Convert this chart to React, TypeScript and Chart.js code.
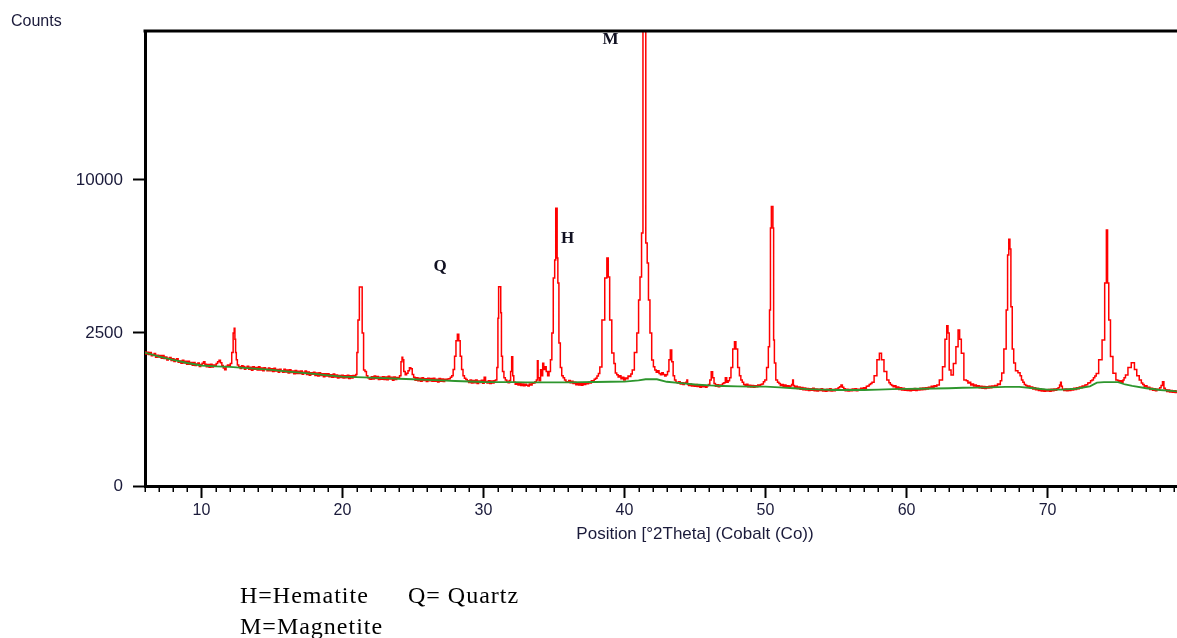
import React, { useEffect, useRef } from 'react';
import { Chart, LinearScale, registerables } from 'chart.js';

// ---------- axis settings ----------
const xMin = 6;
const xMax = 84;
const yMin = 0;
const yMax = 22100;
const xTickValues = [10, 20, 30, 40, 50, 60, 70, 80];
const yTickValues = [0, 2500, 10000];
const xTitle = 'Position [°2Theta] (Cobalt (Co))';
const yTitle = 'Counts';

// ---------- observed scan (2θ, counts) ----------
const scanLowAngle: [number, number][] = [
  [6.0, 1918], [6.1, 1857], [6.2, 1911], [6.3, 1845], [6.4, 1899], [6.5, 1808], [6.6, 1847], [6.7, 1871],
  [6.8, 1770], [6.9, 1825], [7.0, 1775], [7.1, 1820], [7.2, 1741], [7.3, 1817], [7.4, 1732], [7.5, 1773],
  [7.6, 1694], [7.7, 1744], [7.8, 1765], [7.9, 1680], [8.0, 1731], [8.1, 1653], [8.2, 1705], [8.3, 1727],
  [8.4, 1634], [8.5, 1671], [8.6, 1608], [8.7, 1685], [8.8, 1617], [8.9, 1658], [9.0, 1585], [9.1, 1658],
  [9.2, 1582], [9.3, 1625], [9.4, 1554], [9.5, 1627], [9.6, 1551], [9.7, 1589], [9.8, 1613], [9.9, 1526],
  [10.0, 1575], [10.1, 1608], [10.2, 1646], [10.3, 1584], [10.4, 1517], [10.5, 1575], [10.6, 1508], [10.7, 1581],
  [10.8, 1514], [10.9, 1562], [11.0, 1540], [11.1, 1599], [11.2, 1647], [11.3, 1686], [11.4, 1624], [11.5, 1553],
  [11.6, 1486], [11.7, 1440], [11.8, 1528], [11.9, 1562], [12.0, 1535], [12.1, 1603], [12.2, 1900], [12.3, 2500],
  [12.35, 2656], [12.4, 2300], [12.45, 1900], [12.5, 1700], [12.6, 1560], [12.7, 1518], [12.8, 1475], [12.9, 1543],
  [13.0, 1525], [13.1, 1457], [13.2, 1504], [13.3, 1532], [13.4, 1454], [13.5, 1506], [13.6, 1433], [13.7, 1515],
  [13.8, 1452], [13.9, 1500], [14.0, 1437], [14.1, 1515], [14.2, 1437], [14.3, 1485], [14.4, 1417], [14.5, 1490],
  [14.6, 1457], [14.7, 1415], [14.8, 1487], [14.9, 1420], [15.0, 1467], [15.1, 1399], [15.2, 1481], [15.3, 1412],
  [15.4, 1449], [15.5, 1381], [15.6, 1458], [15.7, 1420], [15.8, 1381], [15.9, 1453], [16.0, 1385], [16.1, 1437],
  [16.2, 1363], [16.3, 1445], [16.4, 1377], [16.5, 1413], [16.6, 1345], [16.7, 1422], [16.8, 1353], [16.9, 1405],
  [17.0, 1352], [17.1, 1414], [17.2, 1331], [17.3, 1382], [17.4, 1409], [17.5, 1326], [17.6, 1388], [17.7, 1310],
  [17.8, 1371], [17.9, 1333], [18.0, 1380], [18.1, 1306], [18.2, 1363], [18.3, 1294], [18.4, 1371], [18.5, 1302],
  [18.6, 1344], [18.7, 1275], [18.8, 1347], [18.9, 1293], [19.0, 1345], [19.1, 1272], [19.2, 1324], [19.3, 1261],
  [19.4, 1338], [19.5, 1270], [19.6, 1318], [19.7, 1245], [19.8, 1302], [19.9, 1254], [20.0, 1311], [20.1, 1245],
  [20.2, 1299], [20.3, 1253], [20.4, 1312], [20.5, 1236], [20.6, 1300], [20.7, 1244], [20.8, 1303], [20.9, 1277],
];

const scanQuartzRegion: [number, number][] = [
  [21.0, 1330], [21.05, 1900], [21.15, 2943], [21.25, 4229], [21.35, 4229], [21.45, 2500], [21.55, 1437], [21.65, 1400],
  [21.75, 1300], [21.85, 1250], [21.95, 1225], [22.0, 1218], [22.1, 1277], [22.2, 1221], [22.3, 1291], [22.4, 1231],
  [22.5, 1278], [22.6, 1208], [22.7, 1264], [22.8, 1218], [22.9, 1275], [23.0, 1210], [23.1, 1268], [23.2, 1203],
  [23.3, 1283], [23.4, 1223], [23.5, 1262], [23.6, 1195], [23.7, 1268], [23.8, 1211], [23.9, 1259], [24.0, 1248],
  [24.1, 1300], [24.2, 1650], [24.25, 1770], [24.3, 1700], [24.4, 1400], [24.5, 1320], [24.6, 1360], [24.7, 1420],
  [24.8, 1490], [24.9, 1470], [25.0, 1330], [25.1, 1262], [25.2, 1194], [25.3, 1252], [25.4, 1182], [25.5, 1240],
  [25.6, 1173], [25.7, 1252], [25.8, 1190], [25.9, 1229], [26.0, 1163], [26.1, 1237], [26.2, 1181], [26.3, 1231],
  [26.4, 1169], [26.5, 1242], [26.6, 1170], [26.7, 1214], [26.8, 1157], [26.9, 1231], [27.0, 1170], [27.1, 1224],
  [27.2, 1164], [27.3, 1217], [27.4, 1196], [27.5, 1224], [27.6, 1230], [27.7, 1260], [27.8, 1300], [27.9, 1450],
  [28.0, 1800], [28.1, 2250], [28.2, 2460], [28.3, 2250], [28.4, 1800], [28.5, 1450], [28.6, 1300], [28.7, 1240],
  [28.8, 1210], [28.9, 1185], [29.0, 1146], [29.1, 1200], [29.2, 1135], [29.3, 1189], [29.4, 1140], [29.5, 1202],
  [29.6, 1124], [29.7, 1178], [29.8, 1142], [29.9, 1191], [30.0, 1125], [30.1, 1260], [30.2, 1165], [30.3, 1130],
  [30.4, 1185], [30.5, 1119], [30.6, 1179], [30.7, 1134], [30.8, 1184], [30.9, 1200], [31.0, 1500], [31.05, 3000],
  [31.1, 4240], [31.2, 4240], [31.25, 3200], [31.3, 1800], [31.4, 1400], [31.5, 1250], [31.6, 1200], [31.7, 1170],
  [31.8, 1140], [31.9, 1190], [31.95, 1400], [32.05, 1786], [32.1, 1300], [32.2, 1150], [32.3, 1105], [32.4, 1130],
  [32.5, 1090], [32.6, 1120], [32.7, 1080], [32.8, 1110], [32.9, 1075], [33.0, 1105], [33.1, 1085], [33.2, 1070],
  [33.3, 1110], [33.4, 1090], [33.5, 1125], [33.6, 1130], [33.7, 1160],
];

const scanHematiteMagnetite: [number, number][] = [
  [33.8, 1200], [33.85, 1676], [33.9, 1250], [34.0, 1180], [34.1, 1440], [34.15, 1300], [34.25, 1608], [34.3, 1450],
  [34.4, 1520], [34.5, 1400], [34.6, 1300], [34.7, 1400], [34.8, 1700], [34.9, 2500], [35.0, 4620], [35.1, 5455],
  [35.15, 8236], [35.2, 8236], [35.25, 5552], [35.3, 4401], [35.4, 2184], [35.5, 1500], [35.6, 1300], [35.7, 1250],
  [35.8, 1200], [35.9, 1160], [36.0, 1150], [36.1, 1190], [36.2, 1140], [36.3, 1170], [36.4, 1120], [36.5, 1150],
  [36.6, 1095], [36.7, 1130], [36.8, 1090], [36.9, 1125], [37.0, 1085], [37.1, 1120], [37.2, 1100], [37.3, 1140],
  [37.4, 1115], [37.5, 1150], [37.6, 1135], [37.7, 1180], [37.8, 1170], [37.9, 1215], [38.0, 1240], [38.1, 1290],
  [38.2, 1350], [38.3, 1512], [38.5, 2943], [38.7, 4620], [38.8, 5552], [38.9, 4665], [39.0, 2943], [39.2, 1889],
  [39.3, 1600], [39.4, 1364], [39.5, 1320], [39.6, 1270], [39.7, 1300], [39.8, 1230], [39.9, 1265], [40.0, 1200],
  [40.1, 1245], [40.2, 1230], [40.3, 1290], [40.4, 1280], [40.5, 1340], [40.6, 1437], [40.8, 1900], [40.95, 2500],
  [41.05, 3695], [41.15, 4665], [41.27, 6836], [41.35, 22100], [41.45, 22100], [41.57, 6306], [41.65, 5311], [41.75, 3695],
  [41.86, 2500], [42.0, 1696], [42.1, 1520], [42.2, 1437], [42.3, 1380], [42.4, 1420], [42.5, 1350], [42.6, 1320],
  [42.7, 1370], [42.8, 1330], [42.9, 1290], [43.0, 1320], [43.1, 1400], [43.2, 1700], [43.3, 1975], [43.4, 1650],
  [43.5, 1300], [43.6, 1200], [43.7, 1150], [43.8, 1130], [43.9, 1160], [44.0, 1110], [44.1, 1140], [44.2, 1100],
  [44.3, 1130], [44.4, 1150], [44.45, 1200], [44.5, 1100], [44.6, 1080], [44.7, 1110], [44.8, 1070], [44.9, 1095],
];

const scanHighAngle: [number, number][] = [
  [45.0, 1060], [45.1, 1100], [45.2, 1055], [45.3, 1090], [45.4, 1040], [45.5, 1085], [45.6, 1050], [45.7, 1080],
  [45.8, 1040], [45.9, 1075], [46.0, 1100], [46.1, 1200], [46.2, 1395], [46.3, 1250], [46.4, 1120], [46.5, 1060],
  [46.6, 1095], [46.7, 1050], [46.8, 1090], [46.9, 1070], [47.0, 1120], [47.1, 1140], [47.2, 1250], [47.3, 1150],
  [47.4, 1180], [47.5, 1250], [47.6, 1500], [47.75, 2000], [47.85, 2224], [47.95, 2000], [48.1, 1500], [48.2, 1300],
  [48.3, 1200], [48.4, 1150], [48.5, 1100], [48.6, 1080], [48.7, 1105], [48.8, 1050], [48.9, 1085], [49.0, 1045],
  [49.1, 1080], [49.2, 1040], [49.3, 1075], [49.4, 1050], [49.5, 1090], [49.6, 1060], [49.7, 1100], [49.8, 1110],
  [49.9, 1160], [50.0, 1200], [50.15, 1500], [50.25, 2072], [50.32, 3308], [50.38, 7106], [50.45, 8332], [50.5, 8332],
  [50.55, 7106], [50.6, 2276], [50.66, 1616], [50.8, 1200], [50.9, 1150], [51.0, 1120], [51.1, 1080], [51.2, 1100],
  [51.3, 1060], [51.4, 1090], [51.5, 1050], [51.6, 1075], [51.7, 1040], [51.8, 1065], [51.9, 1100], [51.95, 1200],
  [52.0, 1080], [52.1, 1040], [52.2, 1060], [52.3, 1015], [52.4, 1045], [52.5, 1000], [52.6, 1035], [52.7, 990],
  [52.8, 1025], [52.9, 985], [53.0, 1015], [53.1, 975], [53.2, 1010], [53.3, 980], [53.4, 1020], [53.5, 970],
  [53.6, 1005], [53.7, 965], [53.8, 1000], [53.9, 975], [54.0, 1010], [54.1, 965], [54.2, 995], [54.3, 960],
  [54.4, 1000], [54.5, 970], [54.6, 1010], [54.7, 965], [54.8, 995], [54.9, 970], [55.0, 1005], [55.1, 985],
  [55.2, 1030], [55.3, 1050], [55.4, 1090], [55.5, 1040], [55.6, 1010], [55.7, 970], [55.8, 1000], [55.9, 965],
  [56.0, 995], [56.1, 970], [56.2, 1005], [56.3, 975], [56.4, 1010], [56.5, 970], [56.6, 1000], [56.7, 985],
  [56.8, 1020], [56.9, 1000], [57.0, 1030], [57.1, 1020], [57.2, 1060], [57.3, 1070], [57.4, 1100], [57.5, 1120],
  [57.6, 1150], [57.8, 1300], [58.0, 1700], [58.15, 1881], [58.3, 1700], [58.5, 1400], [58.7, 1200], [58.8, 1140],
  [58.9, 1100], [59.0, 1080], [59.1, 1050], [59.2, 1075], [59.3, 1020], [59.4, 1045], [59.5, 995], [59.6, 1030],
  [59.7, 985], [59.8, 1020], [59.9, 980], [60.0, 1010], [60.1, 975], [60.2, 1005], [60.3, 970], [60.4, 1010],
  [60.5, 980], [60.6, 1015], [60.7, 975], [60.8, 1005], [60.9, 985], [61.0, 1020], [61.1, 990], [61.2, 1025],
  [61.3, 995], [61.4, 1030], [61.5, 1005], [61.6, 1040], [61.7, 1020], [61.8, 1060], [61.9, 1040], [62.0, 1075],
  [62.1, 1060],
];

const scanTail: [number, number][] = [
  [62.2, 1090], [62.45, 1200], [62.65, 1520], [62.8, 2300], [62.9, 2745], [62.98, 2500], [63.07, 1437], [63.24, 1316],
  [63.4, 1600], [63.6, 2072], [63.71, 2599], [63.82, 2300], [63.95, 1880], [64.18, 1200], [64.3, 1180], [64.4, 1130],
  [64.5, 1150], [64.6, 1090], [64.7, 1110], [64.8, 1065], [64.9, 1090], [65.0, 1045], [65.1, 1075], [65.2, 1030],
  [65.3, 1060], [65.4, 1020], [65.5, 1055], [65.6, 1015], [65.7, 1050], [65.8, 1025], [65.9, 1060], [66.0, 1030],
  [66.1, 1065], [66.2, 1045], [66.3, 1080], [66.4, 1070], [66.5, 1110], [66.6, 1100], [66.7, 1180], [66.8, 1364],
  [67.0, 2000], [67.13, 3308], [67.2, 5699], [67.3, 6500], [67.36, 6000], [67.44, 3431], [67.55, 2000], [67.65, 1616],
  [67.8, 1420], [68.0, 1371], [68.1, 1300], [68.2, 1200], [68.3, 1150], [68.4, 1100], [68.5, 1080], [68.6, 1050],
  [68.7, 1070], [68.8, 1030], [68.9, 1045], [69.0, 1005], [69.1, 1030], [69.2, 990], [69.3, 1015], [69.4, 975],
  [69.5, 1005], [69.6, 965], [69.7, 995], [69.8, 960], [69.9, 990], [70.0, 965], [70.1, 995], [70.2, 960],
  [70.3, 1000], [70.4, 970], [70.5, 1005], [70.6, 980], [70.7, 1010], [70.8, 1030], [70.9, 1090], [70.95, 1150],
  [71.0, 1060], [71.1, 1000], [71.2, 975], [71.3, 1005], [71.4, 970], [71.5, 1000], [71.6, 975], [71.7, 1010],
  [71.8, 985], [71.9, 1020], [72.0, 995], [72.1, 1030], [72.2, 1010], [72.3, 1045], [72.4, 1030], [72.5, 1065],
  [72.6, 1060], [72.7, 1090], [72.8, 1095], [72.9, 1130], [73.0, 1140], [73.1, 1180], [73.2, 1200], [73.3, 1250],
  [73.4, 1290], [73.5, 1350], [73.75, 1700], [73.98, 2276], [74.12, 4401], [74.22, 7000], [74.29, 4401], [74.39, 2943],
  [74.53, 1788], [74.74, 1357], [74.95, 1200], [75.0, 1190], [75.1, 1160], [75.2, 1185], [75.3, 1150], [75.4, 1200],
  [75.45, 1250], [75.6, 1316], [75.8, 1500], [76.07, 1624], [76.25, 1450], [76.4, 1300], [76.6, 1200], [76.7, 1130],
  [76.8, 1100], [76.9, 1060], [77.0, 1075], [77.1, 1020], [77.2, 1040], [77.3, 995], [77.4, 1020], [77.5, 980],
  [77.6, 1010], [77.7, 970], [77.8, 1000], [77.9, 990], [78.0, 1030], [78.1, 1080], [78.2, 1160], [78.3, 1020],
  [78.4, 990], [78.5, 955], [78.6, 985], [78.7, 945], [78.8, 975], [78.9, 940], [79.0, 970], [79.1, 935],
  [79.2, 965], [79.3, 930], [79.4, 955], [79.5, 925], [79.6, 950], [79.7, 930], [79.8, 950], [79.9, 925],
  [80.0, 945],
];

// ---------- fitted background (green) ----------
const backgroundCurve: [number, number][] = [
  [6, 1898], [7, 1790], [8, 1696], [9, 1615], [10, 1550], [11, 1530], [12, 1515], [13, 1490], [14, 1462], [15, 1437],
  [16, 1405], [17, 1372], [18, 1340], [19, 1305], [20, 1276], [21, 1265], [22, 1253], [23, 1240], [24, 1228], [25, 1216],
  [26, 1203], [27, 1190], [28, 1177], [29, 1166], [30, 1155], [31, 1152], [32, 1150], [33, 1148], [34, 1148], [35, 1148],
  [36, 1148], [37, 1150], [38, 1155], [39, 1160], [40, 1165], [41, 1190], [41.5, 1216], [42.3, 1216], [43, 1160], [44, 1128],
  [45, 1100], [46, 1080], [47, 1068], [48, 1060], [49, 1055], [50, 1053], [51, 1040], [52, 1020], [53, 1000], [54, 990],
  [55, 984], [56, 984], [57, 984], [58, 990], [59, 1000], [60, 1005], [61, 1010], [62, 1015], [63, 1020], [64, 1030],
  [65, 1035], [66, 1040], [67, 1047], [68, 1050], [69, 1020], [70, 990], [71, 990], [72, 1010], [73, 1060], [73.5, 1140],
  [74, 1150], [75, 1150], [75.5, 1100], [76, 1068], [77, 1020], [78, 984], [79, 960], [80, 943],
];

// ---------- phase markers ----------
const phaseLabels = ['M', 'H', 'Q'];
const phaseLabelTheta = [39.01, 35.96, 26.92];
const phaseLabelCounts = [21280, 6510, 5120];
const legendRow1 = ['H=Hematite', 'Q= Quartz'];
const legendRow2 = ['M=Magnetite'];

// ---------- square-root intensity scale ----------
class SqrtScale extends LinearScale {
  static id = 'sqrt';
  static defaults = LinearScale.defaults;
  getPixelForValue(value: number) {
    const lo = Math.sqrt(Math.max(this.min, 0));
    const hi = Math.sqrt(this.max);
    const v = Math.sqrt(Math.max(value, 0));
    return this.getPixelForDecimal((v - lo) / (hi - lo));
  }
  getValueForPixel(pixel: number) {
    const lo = Math.sqrt(Math.max(this.min, 0));
    const hi = Math.sqrt(this.max);
    const s = lo + this.getDecimalForPixel(pixel) * (hi - lo);
    return s * s;
  }
}

Chart.register(...registerables, SqrtScale as any);

const TEXT = '#1a1a3a';
const SANS = '"Liberation Sans", Arial, sans-serif';
const SERIF = '"Liberation Serif", "Times New Roman", serif';

const framePlugin = {
  id: 'xrdFrame',
  afterDraw(chart: any) {
    const { ctx, chartArea, scales } = chart;
    const xs = scales.x;
    const ys = scales.y;
    ctx.save();
    // minor ticks every degree
    ctx.strokeStyle = '#000';
    ctx.lineWidth = 1.5;
    for (let v = Math.ceil(xs.min); v <= xs.max; v++) {
      if (xTickValues.includes(v)) continue;
      const px = Math.round(xs.getPixelForValue(v)) + 0.25;
      ctx.beginPath();
      ctx.moveTo(px, chartArea.bottom + 1.5);
      ctx.lineTo(px, chartArea.bottom + 6);
      ctx.stroke();
    }
    // top and right frame
    ctx.lineWidth = 3;
    ctx.beginPath();
    ctx.moveTo(chartArea.left - 1.5, chartArea.top);
    ctx.lineTo(chartArea.right, chartArea.top);
    ctx.lineTo(chartArea.right, chartArea.bottom);
    ctx.stroke();
    // phase labels
    ctx.font = `bold 17px ${SERIF}`;
    ctx.fillStyle = '#111122';
    ctx.textAlign = 'center';
    ctx.textBaseline = 'middle';
    phaseLabels.forEach((t, i) => {
      ctx.fillText(t, xs.getPixelForValue(phaseLabelTheta[i]), ys.getPixelForValue(phaseLabelCounts[i]));
    });
    ctx.restore();
  },
};

export default function App() {
  const canvasRef = useRef<HTMLCanvasElement>(null);

  useEffect(() => {
    const observed = [...scanLowAngle, ...scanQuartzRegion, ...scanHematiteMagnetite, ...scanHighAngle, ...scanTail]
      .map(([x, y]) => ({ x, y }));
    const background = backgroundCurve.map(([x, y]) => ({ x, y }));

    const chart = new Chart(canvasRef.current as HTMLCanvasElement, {
      type: 'line',
      data: {
        datasets: [
          {
            label: 'Background',
            data: background,
            borderColor: '#2e962e',
            borderWidth: 1.8,
            pointRadius: 0,
            tension: 0,
          },
          {
            label: 'Observed',
            data: observed,
            borderColor: '#ff0000',
            borderWidth: 1.5,
            pointRadius: 0,
            tension: 0,
            stepped: 'middle',
          },
        ],
      },
      options: {
        animation: false,
        responsive: false,
        devicePixelRatio: 1,
        events: [],
        layout: { padding: { left: 0, top: 31, right: 5, bottom: 93.5 } },
        plugins: {
          legend: { display: false },
          tooltip: { enabled: false },
          title: { display: false },
        },
        scales: {
          x: {
            type: 'linear',
            min: xMin,
            max: xMax,
            afterBuildTicks: (s: any) => {
              s.ticks = xTickValues.map((v) => ({ value: v }));
            },
            afterFit: (s: any) => {
              s.height = 58.5;
            },
            grid: { display: true, drawOnChartArea: false, drawTicks: true, tickLength: 12, tickWidth: 2, tickColor: '#000' },
            border: { display: true, color: '#000', width: 3 },
            ticks: {
              padding: 3,
              color: TEXT,
              font: { family: SANS, size: 16 },
              maxRotation: 0,
              autoSkip: false,
              callback: (v: any) => String(v),
            },
            title: {
              display: true,
              text: xTitle,
              color: TEXT,
              font: { family: SANS, size: 17 },
              padding: { top: 0, bottom: 0 },
            },
          },
          y: {
            type: 'sqrt' as any,
            min: yMin,
            max: yMax,
            afterBuildTicks: (s: any) => {
              s.ticks = yTickValues.map((v) => ({ value: v }));
            },
            afterFit: (s: any) => {
              s.width = 145;
            },
            grid: { display: true, drawOnChartArea: false, drawTicks: true, tickLength: 12, tickWidth: 2, tickColor: '#000' },
            border: { display: true, color: '#000', width: 3 },
            ticks: {
              padding: 10,
              color: TEXT,
              font: { family: SANS, size: 17 },
              autoSkip: false,
              callback: (v: any) => String(v),
            },
          },
        },
      } as any,
      plugins: [framePlugin],
    });
    return () => chart.destroy();
  }, []);

  const serif: React.CSSProperties = {
    position: 'absolute',
    font: `24px ${SERIF}`,
    lineHeight: '24px',
    letterSpacing: '1px',
    color: '#000',
    whiteSpace: 'nowrap',
  };

  return (
    <div style={{ position: 'fixed', left: 0, top: 0, width: 1177, height: 638, overflow: 'hidden', background: '#fff' }}>
      <canvas ref={canvasRef} width={1250} height={638} style={{ position: 'absolute', left: 0, top: 0, width: 1250, height: 638 }} />
      <div style={{ position: 'absolute', left: 11, top: 13, font: `16px ${SANS}`, lineHeight: '16px', color: TEXT }}>{yTitle}</div>
      <div style={{ ...serif, left: 240, top: 583 }}>{legendRow1[0]}</div>
      <div style={{ ...serif, left: 408, top: 583 }}>{legendRow1[1]}</div>
      <div style={{ ...serif, left: 240, top: 614 }}>{legendRow2[0]}</div>
    </div>
  );
}
